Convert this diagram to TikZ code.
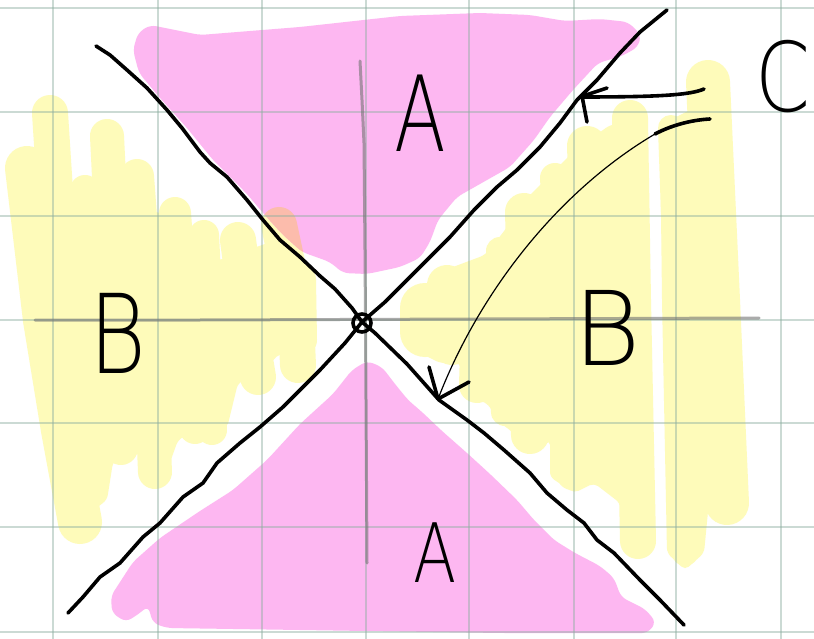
\documentclass[tikz,border=0pt]{standalone}
\usepackage{fontspec}
\newfontfamily\hand{DejaVu Sans ExtraLight}
\definecolor{pinkc}{RGB}{253,183,241}
\definecolor{yellc}{RGB}{254,251,186}
\definecolor{orc}{RGB}{252,188,172}
\definecolor{gridc}{RGB}{140,175,160}
\newcommand{\pinkTopPath}{(150,25) -- (200,35) -- (300,27) -- (400,16) -- (480,13) -- (530,15) -- (565,21) -- (600,19) -- (628,22) -- (641,35) -- (638,47) -- (622,56) -- (598,63) -- (573,90) -- (550,117) -- (534,140) -- (510,167) -- (487,180) -- (457,197) -- (438,220) -- (430,242) -- (420,258) -- (400,267) -- (367,274) -- (343,273) -- (330,262) -- (302,252) -- (282,234) -- (263,213) -- (247,194) -- (213,160) -- (187,128) -- (160,98) -- (139,73) -- (133,50) -- (138,33) -- cycle}
\begin{document}
\begin{tikzpicture}[x=1pt,y=-1pt,
  yel/.style={yellc, line cap=round, line join=round},
  ink/.style={black, line width=3.6pt, line cap=round, line join=round},
  gridline/.style={gridc, line width=1.6pt, opacity=0.45},
  axisline/.style={black!55, line width=3pt, opacity=0.6, line cap=round},
  lbl/.style={inner sep=0pt, text=black}]
\useasboundingbox (0,0) rectangle (814,639);
\fill[white] (0,0) rectangle (814,639);

% ---- left yellow region: body and highlighter strokes
\fill[yellc, rounded corners=5pt] (12,185) -- (45,190) -- (68,200) -- (72,207) -- (85,195) -- (120,190) -- (152,205) -- (156,214) -- (165,212) -- (200,240) -- (218,262) -- (232,252) -- (257,247) -- (275,240) -- (305,270) -- (315,300) -- (317,340) -- (300,362) -- (280,353) -- (262,372) -- (238,383) -- (227,428) -- (195,430) -- (178,440) -- (168,468) -- (140,470) -- (135,432) -- (128,450) -- (113,462) -- (107,500) -- (80,520) -- (58,500) -- (42,420) -- (24,300) -- cycle;
\draw[yel, line width=44pt] (27,168) -- (45,320) -- (63,430) -- (80,522);
\draw[yel, line width=36pt] (50,113) -- (62,300) -- (85,480);
\draw[yel, line width=30pt] (85,190) -- (95,400);
\draw[yel, line width=34pt] (107,136) -- (115,300) -- (121,448);
\draw[yel, line width=34pt] (137,176) -- (150,350) -- (155,472);
\draw[yel, line width=32pt] (175,213) -- (185,350) -- (195,428);
\draw[yel, line width=30pt] (204,235) -- (210,350) -- (212,430);
\draw[yel, line width=36pt] (238,240) -- (250,330) -- (258,377);
\draw[yel, line width=36pt] (279,225) -- (295,300) -- (298,365);
\draw[yel, line width=32pt] (300,280) -- (301,340);

% ---- right yellow region: bodies and highlighter strokes
\fill[yellc, rounded corners=5pt] (405,300) -- (445,270) -- (485,255) -- (505,230) -- (525,200) -- (550,175) -- (575,150) -- (610,125) -- (646,120) -- (649,300) -- (653,540) -- (640,550) -- (625,545) -- (620,503) -- (594,483) -- (574,493) -- (550,477) -- (550,440) -- (534,453) -- (510,430) -- (500,423) -- (487,403) -- (467,397) -- (460,363) -- (440,363) -- (420,353) -- (405,340) -- cycle;
\fill[yellc, rounded corners=5pt] (660,125) -- (690,110) -- (730,90) -- (735,300) -- (745,500) -- (727,520) -- (712,470) -- (704,553) -- (685,570) -- (667,553) -- (662,300) -- cycle;
\draw[yel, line width=50pt] (425,308) -- (425,332);
\draw[yel, line width=40pt] (447,285) -- (452,345);
\draw[yel, line width=36pt] (480,285) -- (477,385);
\draw[yel, line width=28pt] (500,251) -- (505,412);
\draw[yel, line width=38pt] (524,212) -- (530,435);
\draw[yel, line width=30pt] (555,178) -- (572,475);
\draw[yel, line width=40pt] (587,146) -- (598,465);
\draw[yel, line width=36pt] (630,118) -- (633,300) -- (638,541);
\draw[yel, line width=26pt] (671,128) -- (677,300) -- (685,553);
\draw[yel, line width=30pt] (695,200) -- (700,480);
\draw[yel, line width=44pt] (708,82) -- (718,300) -- (727,503);

% ---- pink regions
\fill[pinkc, rounded corners=6pt] \pinkTopPath;
\fill[pinkc, rounded corners=6pt] (367,361) -- (382,367) -- (395,384) -- (408,400) -- (422,412) -- (442,431) -- (467,453) -- (490,474) -- (517,500) -- (534,520) -- (554,540) -- (575,553) -- (600,566) -- (614,578) -- (621,597) -- (645,609) -- (656,622) -- (648,633) -- (500,633) -- (300,630) -- (167,628) -- (153,623) -- (148,606) -- (140,613) -- (126,622) -- (112,613) -- (111,596) -- (133,562) -- (160,538) -- (200,511) -- (233,490) -- (267,460) -- (300,424) -- (333,394) -- (352,370) -- cycle;

% ---- overlap of yellow and pink
\begin{scope}
  \clip[rounded corners=6pt] \pinkTopPath;
  \draw[orc, line width=36pt, line cap=round] (279,225) -- (295,300) -- (298,365);
\end{scope}

% ---- grid
\foreach \gx in {53,158,262,366,469,574,676,781}
  \draw[gridline] (\gx,0) -- (\gx,639);
\foreach \gy in {8,112,216,320,423,527,632}
  \draw[gridline] (0,\gy) -- (814,\gy);

% ---- axes
\draw[axisline] (35,320) -- (200,320) -- (759,318);
\draw[axisline] (360,61) -- (362,100) -- (364,143) -- (365,250) -- (366,400) -- (367,563);

% ---- the two crossing lines
\draw[ink] (96,46) -- (110,55) -- (127,70) -- (147,88) -- (167,110) -- (182,128) -- (200,152) -- (210,163) -- (227,177) -- (247,200) -- (263,220) -- (280,240) -- (300,257) -- (320,276) -- (335,289) -- (352,308) -- (362,322) -- (375,333) -- (407,364) -- (439,400) -- (467,420) -- (484,433) -- (504,450) -- (530,473) -- (547,493) -- (567,510) -- (584,523) -- (597,540) -- (614,553) -- (640,580) -- (660,600) -- (684,625);
\draw[ink] (667,10) -- (640,32) -- (620,53) -- (597,80) -- (577,100) -- (560,123) -- (540,147) -- (517,170) -- (497,187) -- (474,210) -- (450,237) -- (427,260) -- (407,280) -- (385,302) -- (362,322) -- (345,343) -- (320,370) -- (283,407) -- (260,427) -- (240,443) -- (217,463) -- (203,483) -- (183,497) -- (160,523) -- (143,537) -- (120,563) -- (100,577) -- (83,597) -- (68,613);

% ---- origin circle
\node[draw, circle, line width=3.6pt, minimum size=18pt, inner sep=0pt] (origin) at (362,323) {};

% ---- arrow to the line (C)
\coordinate (cStart) at (704,89);
\coordinate (cTip) at (580,97);
\draw[ink] (cStart) .. controls (690,95) and (660,97) .. (cTip);
\draw[ink] (cTip) -- (607,88);
\draw[ink] (582,96) -- (587,122);

% ---- second arrow
\coordinate (dStart) at (710,119);
\coordinate (dMid) at (655,134);
\coordinate (dTip) at (438,399);
\draw[ink] (dStart) .. controls (690,120) and (670,126) .. (dMid);
\draw[black, line width=1.2pt] (dMid) .. controls (560,190) and (480,290) .. (dTip);
\draw[ink] (dTip) -- (429,367);
\draw[ink] (dTip) -- (469,382);

% ---- labels
\node[lbl, font={\hand\fontsize{105}{110}\selectfont}] (Atop) at (420,113) {\scalebox{0.72}[1]{A}};
\node[lbl, font={\hand\fontsize{82}{90}\selectfont}] (Abot) at (435,553) {\scalebox{0.77}[1]{A}};
\node[lbl, font={\hand\fontsize{110}{115}\selectfont}] (Bleft) at (118,333) {\scalebox{0.79}[1]{B}};
\node[lbl, font={\hand\fontsize{103}{110}\selectfont}] (Bright) at (607,328) {B};
\node[lbl, font={\hand\fontsize{96}{100}\selectfont}] (Clbl) at (783,77) {\scalebox{0.82}[1]{C}};
\end{tikzpicture}
\end{document}
